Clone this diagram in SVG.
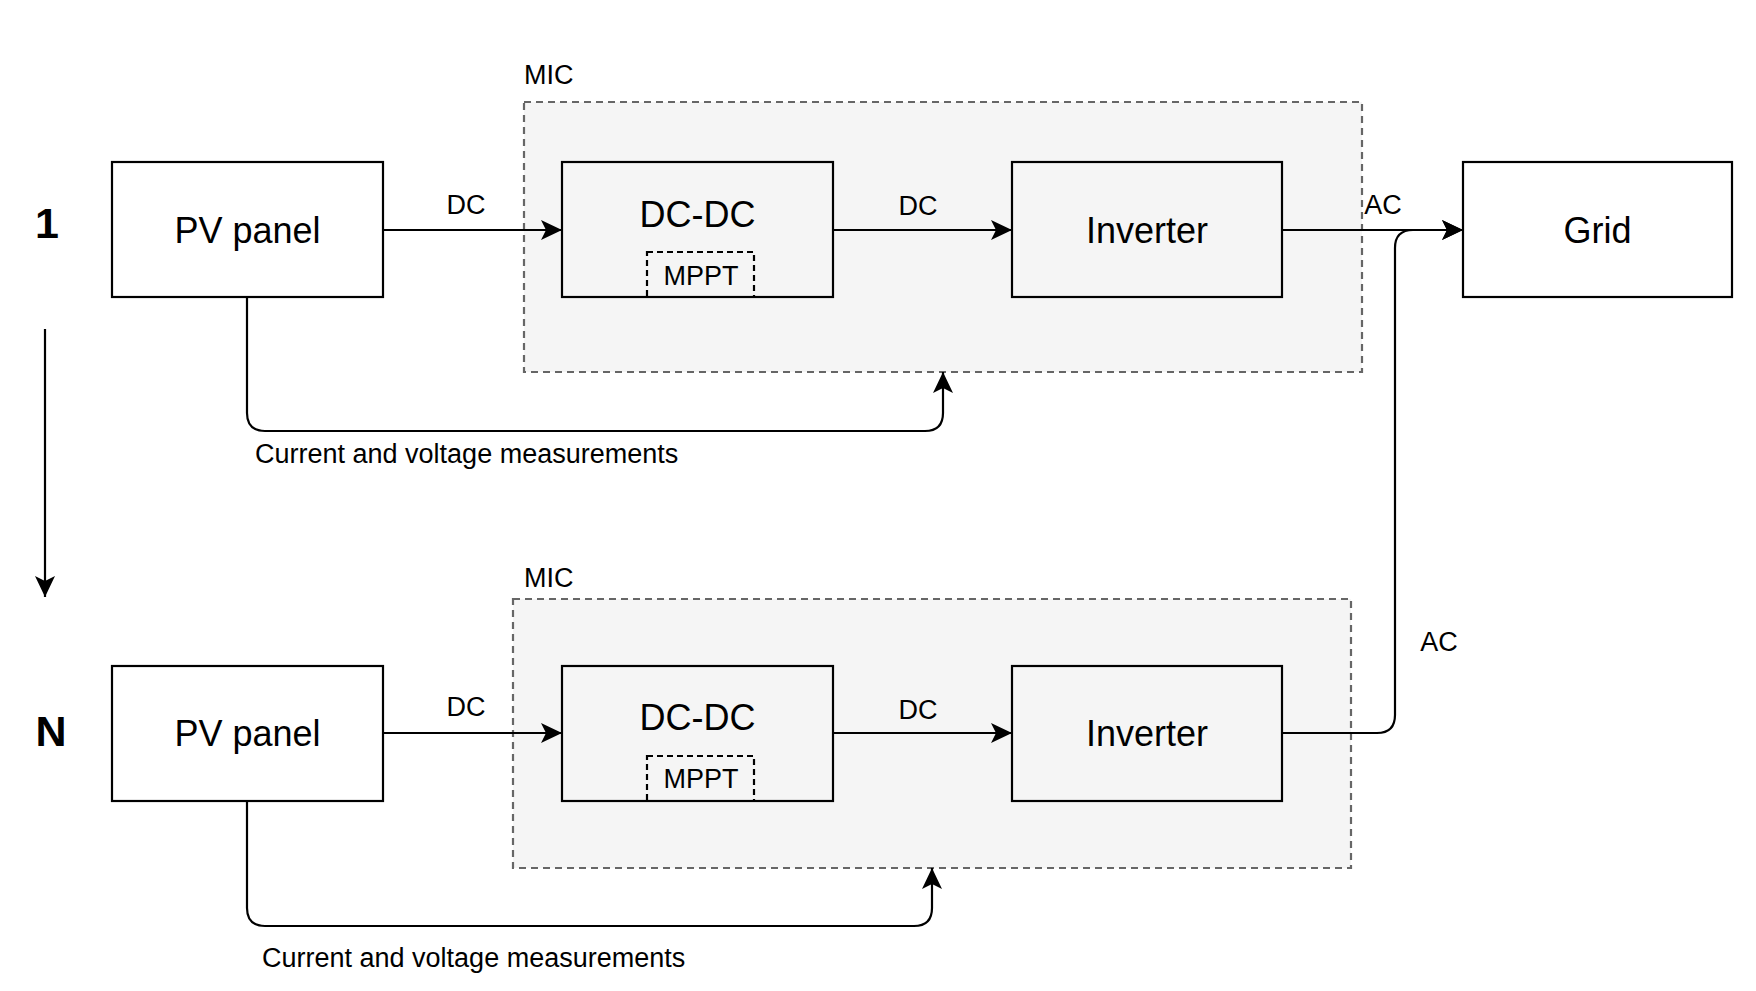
<svg xmlns="http://www.w3.org/2000/svg" width="1756" height="991" viewBox="0 0 1756 991">
<defs>
<marker id="arr" markerUnits="userSpaceOnUse" markerWidth="24" markerHeight="24" viewBox="-22 -12 24 24" refX="0" refY="0" orient="auto">
<path d="M0,0 L-21,-10 L-16,0 L-21,10 Z" fill="#000" stroke="none"/>
</marker>
<style>
.box{stroke:#000;stroke-width:2.2;}
.white{fill:#fff;}
.grey{fill:#f5f5f5;}
.mic{fill:#f5f5f5;stroke:#666;stroke-width:2.2;stroke-dasharray:7 5;}
.mppt{fill:none;stroke:#000;stroke-width:2.2;stroke-dasharray:6 4;}
.edge{fill:none;stroke:#000;stroke-width:2.2;marker-end:url(#arr);}
.t{font-family:"Liberation Sans",Arial,Helvetica,sans-serif;fill:#000;}
.big{font-size:36px;text-anchor:middle;}
.sm{font-size:27px;}
.mid{text-anchor:middle;}
.num{font-size:43px;font-weight:bold;text-anchor:middle;}
</style>
</defs>
<rect width="1756" height="991" fill="#fff"/>

<g id="mic1">
<rect class="mic" x="524" y="102" width="838" height="270"/>
<text class="t sm" x="524" y="84">MIC</text>
</g>
<g id="mic2">
<rect class="mic" x="513" y="599" width="838" height="269"/>
<text class="t sm" x="524" y="587">MIC</text>
</g>

<g id="label1"><text class="t num" x="47" y="238">1</text></g>
<g id="labelN"><text class="t num" x="51" y="746">N</text></g>

<g id="pv1">
<rect class="box white" x="112" y="162" width="271" height="135"/>
<text class="t big" x="247.5" y="243">PV panel</text>
</g>
<g id="dcdc1">
<rect class="box grey" x="562" y="162" width="271" height="135"/>
<text class="t big" x="697.5" y="227">DC-DC</text>
<rect class="mppt" x="647" y="252" width="107" height="45"/>
<text class="t sm mid" x="701" y="285">MPPT</text>
</g>
<g id="inv1">
<rect class="box grey" x="1012" y="162" width="270" height="135"/>
<text class="t big" x="1147" y="243">Inverter</text>
</g>
<g id="grid">
<rect class="box white" x="1463" y="162" width="269" height="135"/>
<text class="t big" x="1597.5" y="243">Grid</text>
</g>

<g id="pv2">
<rect class="box white" x="112" y="666" width="271" height="135"/>
<text class="t big" x="247.5" y="746">PV panel</text>
</g>
<g id="dcdc2">
<rect class="box grey" x="562" y="666" width="271" height="135"/>
<text class="t big" x="697.5" y="730">DC-DC</text>
<rect class="mppt" x="647" y="756" width="107" height="45"/>
<text class="t sm mid" x="701" y="788">MPPT</text>
</g>
<g id="inv2">
<rect class="box grey" x="1012" y="666" width="270" height="135"/>
<text class="t big" x="1147" y="746">Inverter</text>
</g>

<g id="connectors">
<path class="edge" d="M45,329 L45,597"/>
<path class="edge" d="M383,230 L562,230"/>
<path class="edge" d="M833,230 L1012,230"/>
<path class="edge" d="M1282,230 L1463,230"/>
<path class="edge" d="M247,297 L247,413 Q247,431 265,431 L925,431 Q943,431 943,413 L943,372"/>
<path class="edge" d="M383,733 L562,733"/>
<path class="edge" d="M833,733 L1012,733"/>
<path class="edge" d="M1282,733 L1377,733 Q1395,733 1395,715 L1395,248 Q1395,230 1413,230 L1463,230"/>
<path class="edge" d="M247,801 L247,908 Q247,926 265,926 L914,926 Q932,926 932,908 L932,868"/>
<text class="t sm mid" x="466" y="214">DC</text>
<text class="t sm mid" x="918" y="215">DC</text>
<text class="t sm mid" x="1383" y="214">AC</text>
<text class="t sm" x="255" y="463">Current and voltage measurements</text>
<text class="t sm mid" x="466" y="716">DC</text>
<text class="t sm mid" x="918" y="719">DC</text>
<text class="t sm mid" x="1439" y="651">AC</text>
<text class="t sm" x="262" y="967">Current and voltage measurements</text>
</g>
</svg>
